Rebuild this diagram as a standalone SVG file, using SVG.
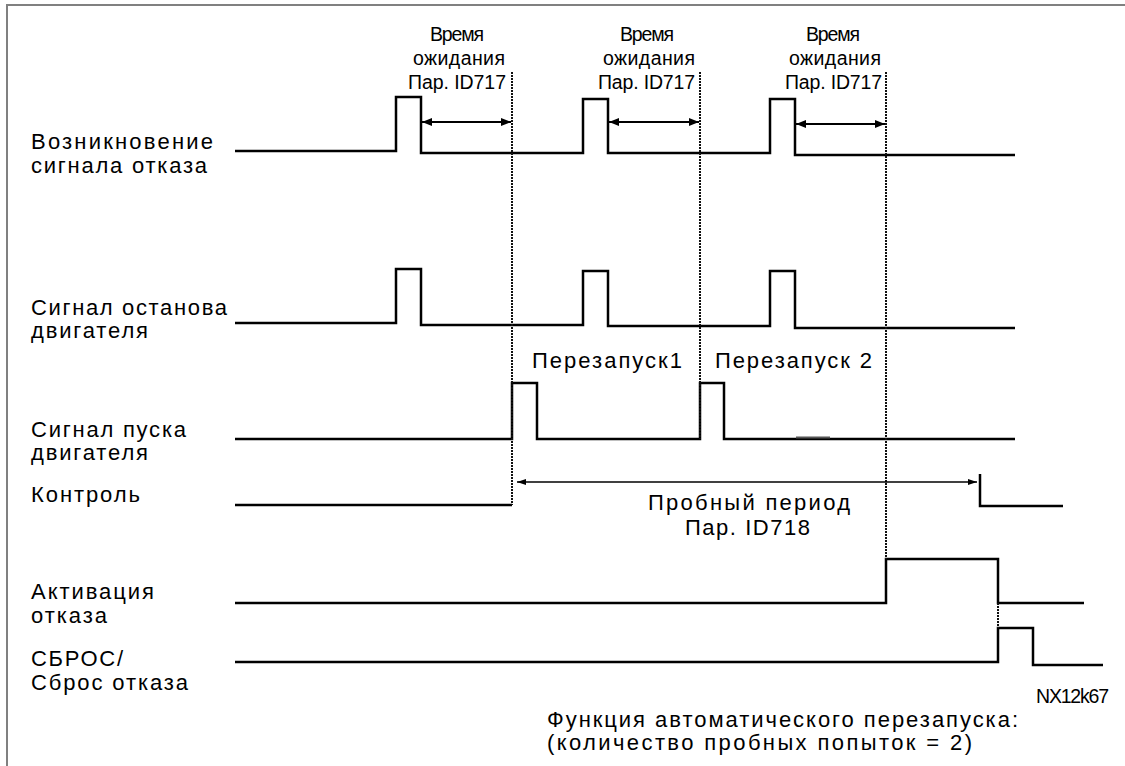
<svg xmlns="http://www.w3.org/2000/svg" width="1125" height="766" viewBox="0 0 1125 766">
<style>
.t{font-family:"Liberation Sans",Arial,sans-serif;font-size:22px;fill:#000}
.s{font-family:"Liberation Sans",Arial,sans-serif;font-size:19.5px;fill:#000}
.sig{fill:none;stroke:#000;stroke-width:2.5;stroke-linejoin:miter}
.dash{fill:none;stroke:#111;stroke-width:2;stroke-dasharray:2,1}
.arr{fill:none;stroke:#000;stroke-width:2}
.arr2{fill:none;stroke:#000;stroke-width:1.5}
.frame{fill:none;stroke:#808080;stroke-width:2}
</style>
<defs>
<marker id="ah" viewBox="0 0 10 8" refX="10" refY="4" markerWidth="10" markerHeight="8" markerUnits="userSpaceOnUse" orient="auto-start-reverse"><path d="M0,0 L10,4 L0,8 Z" fill="#000"/></marker>
<marker id="ahs" viewBox="0 0 9 6" refX="9" refY="3" markerWidth="9" markerHeight="6" markerUnits="userSpaceOnUse" orient="auto-start-reverse"><path d="M0,0 L9,3 L0,6 Z" fill="#000"/></marker>
</defs>
<rect width="1125" height="766" fill="#fff"/>
<path class="frame" d="M7,766 V5 H1125"/>

<g id="wait-labels">
<text class="s" x="430" y="41" textLength="54" lengthAdjust="spacing">Время</text>
<text class="s" x="413" y="65" textLength="92" lengthAdjust="spacing">ожидания</text>
<text class="s" x="408" y="89" textLength="98" lengthAdjust="spacing">Пар. ID717</text>
<text class="s" x="620" y="41" textLength="54" lengthAdjust="spacing">Время</text>
<text class="s" x="603" y="65" textLength="92" lengthAdjust="spacing">ожидания</text>
<text class="s" x="598" y="89" textLength="97" lengthAdjust="spacing">Пар. ID717</text>
<text class="s" x="806" y="41" textLength="54" lengthAdjust="spacing">Время</text>
<text class="s" x="789" y="65" textLength="92" lengthAdjust="spacing">ожидания</text>
<text class="s" x="785" y="89" textLength="97" lengthAdjust="spacing">Пар. ID717</text>
</g>

<g id="fault-signal">
<text class="t" x="31" y="149" textLength="182" lengthAdjust="spacing">Возникновение</text>
<text class="t" x="31" y="173" textLength="176" lengthAdjust="spacing">сигнала отказа</text>
<path class="sig" d="M235,151 H396 V97 H421 V153 H583 V99 H608 V153 H770 V99 H795 V155 H1015"/>
</g>

<g id="stop-signal">
<text class="t" x="31" y="315" textLength="196" lengthAdjust="spacing">Сигнал останова</text>
<text class="t" x="31" y="338" textLength="117" lengthAdjust="spacing">двигателя</text>
<path class="sig" d="M235,323 H396 V269 H421 V325 H583 V271 H608 V326 H770 V271 H795 V328 H1015"/>
</g>

<g id="start-signal">
<text class="t" x="31" y="437" textLength="155" lengthAdjust="spacing">Сигнал пуска</text>
<text class="t" x="31" y="460" textLength="117" lengthAdjust="spacing">двигателя</text>
<text class="t" x="532" y="368" textLength="150" lengthAdjust="spacing">Перезапуск1</text>
<text class="t" x="715" y="368" textLength="157" lengthAdjust="spacing">Перезапуск 2</text>
<path class="sig" d="M235,439 H512 V383 H537 V439 H700 V383 H724 V439 H1015"/>
<path d="M796,437.5 H830" stroke="#555" stroke-width="2"/>
</g>

<g id="control-signal">
<text class="t" x="31" y="502" textLength="109" lengthAdjust="spacing">Контроль</text>
<text class="t" x="648" y="510" textLength="202" lengthAdjust="spacing">Пробный период</text>
<text class="t" x="685" y="535" textLength="125" lengthAdjust="spacing">Пар. ID718</text>
<path class="sig" d="M235,505 H512"/>
<path class="sig" d="M980,474 V506 H1063"/>
</g>

<g id="fault-activation">
<text class="t" x="31" y="599" textLength="123" lengthAdjust="spacing">Активация</text>
<text class="t" x="31" y="623" textLength="76" lengthAdjust="spacing">отказа</text>
<path class="sig" d="M235,603 H886 V559 H998 V603 H1084"/>
</g>

<g id="reset-signal">
<text class="t" x="31" y="666" textLength="92" lengthAdjust="spacing">СБРОС/</text>
<text class="t" x="31" y="690" textLength="157" lengthAdjust="spacing">Сброс отказа</text>
<path class="sig" d="M235,662 H998 V628 H1033 V665 H1103"/>
</g>

<g id="notes">
<text class="s" x="1036" y="703" font-size="17" textLength="73" lengthAdjust="spacing">NX12k67</text>
<text class="t" x="547" y="727" font-size="20" textLength="471" lengthAdjust="spacing">Функция автоматического перезапуска:</text>
<text class="t" x="547" y="750" font-size="20" textLength="425" lengthAdjust="spacing">(количество пробных попыток = 2)</text>
</g>

<g id="connectors">
<path class="dash" d="M512,72 V505"/>
<path class="dash" d="M700,72 V439"/>
<path class="dash" d="M886,72 V559"/>
<path class="dash" d="M998,603 V628"/>
<path class="arr" d="M422,122 H511" marker-start="url(#ah)" marker-end="url(#ah)"/>
<path class="arr" d="M609,122 H699" marker-start="url(#ah)" marker-end="url(#ah)"/>
<path class="arr" d="M796,124 H885" marker-start="url(#ah)" marker-end="url(#ah)"/>
<path class="arr2" d="M517,482 H977" marker-start="url(#ahs)" marker-end="url(#ahs)"/>
</g>
</svg>
